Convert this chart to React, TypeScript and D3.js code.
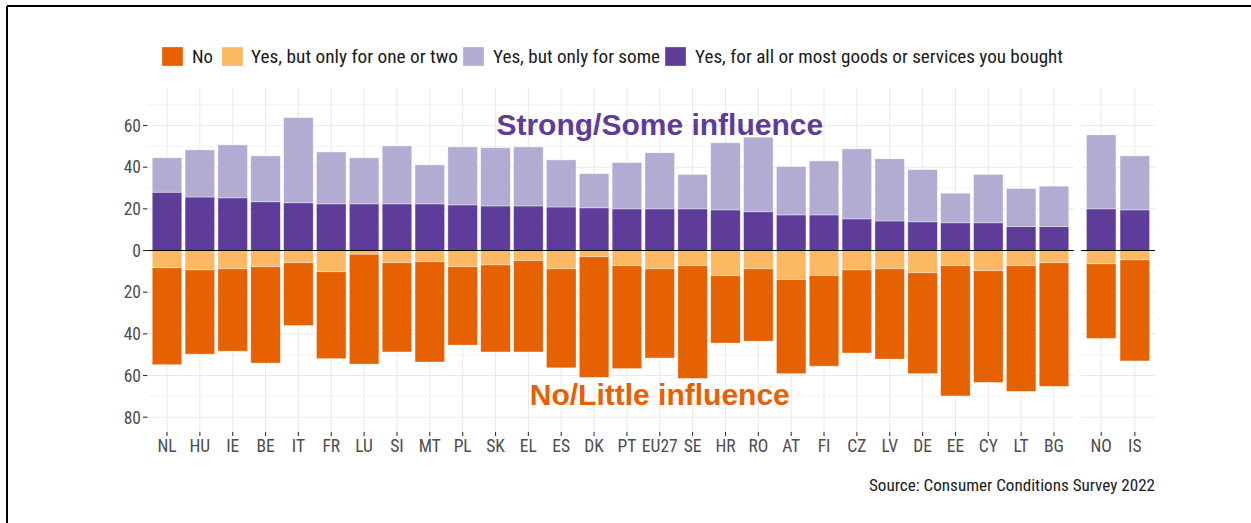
import React from "react";
import * as d3 from "d3";

const euCountries = ["NL","HU","IE","BE","IT","FR","LU","SI","MT","PL","SK","EL","ES","DK","PT","EU27","SE","HR","RO","AT","FI","CZ","LV","DE","EE","CY","LT","BG"];
const otherCountries = ["NO","IS"];
const allCountries = [...euCountries, ...otherCountries];

// % "Yes, for all or most goods or services you bought"
const allOrMost = [28.0,25.7,25.3,23.4,22.9,22.4,22.4,22.4,22.4,21.9,21.4,21.4,20.9,20.5,20.0,20.0,20.0,19.5,18.6,17.1,17.1,15.2,14.2,13.8,13.3,13.3,11.5,11.5,20.0,19.5];
// % "Yes, but only for some"
const onlySome = [16.5,22.6,25.4,22.0,40.9,24.9,22.1,27.8,18.7,27.8,27.9,28.3,22.6,16.4,22.2,26.9,16.5,32.2,35.8,23.2,25.9,33.6,29.8,25.0,14.2,23.2,18.2,19.4,35.5,25.9];
// % "Yes, but only for one or two"
const oneOrTwo = [8.3,9.3,8.8,7.8,5.9,10.2,1.8,5.9,5.4,7.8,6.9,4.9,8.8,3.0,7.3,8.8,7.3,12.1,8.8,13.9,12.0,9.3,8.8,10.7,7.3,9.7,7.3,5.9,6.4,4.5];
// % "No"
const noInfluence = [46.5,40.4,39.5,46.2,30.1,41.7,52.7,42.8,48.1,37.6,41.8,43.8,47.5,57.9,49.4,42.8,54.1,32.3,34.7,45.2,43.5,39.9,43.3,48.4,62.5,53.6,60.3,59.3,35.8,48.5];

const legendLabels = ["No","Yes, but only for one or two","Yes, but only for some","Yes, for all or most goods or services you bought"];
const legendKeys = ["no","oneOrTwo","some","allMost"];
const yTicks = [-80,-60,-40,-20,0,20,40,60];
const yMinor = [-70,-50,-30,-10,10,30,50,70];
const annotationTop = "Strong/Some influence";
const annotationBottom = "No/Little influence";
const sourceText = "Source: Consumer Conditions Survey 2022";

const colors: Record<string,string> = {
  no: "#E66101",
  oneOrTwo: "#FDB863",
  some: "#B2ABD2",
  allMost: "#5E3C99",
};

const FONT = "'Roboto Condensed','Liberation Sans Narrow','DejaVu Sans Condensed',Roboto,sans-serif";

export default function App() {
  const rows = allCountries.map((c, i) => ({
    country: c,
    allMost: allOrMost[i],
    some: onlySome[i],
    oneOrTwo: -oneOrTwo[i],
    no: -noInfluence[i],
  }));
  const keys = ["allMost","some","oneOrTwo","no"];
  const series = d3.stack<any>().keys(keys).offset(d3.stackOffsetDiverging)(rows);

  const panelTop = 88, panelBottom = 432;
  const y = d3.scaleLinear().domain([-87.1, 78]).range([panelBottom, panelTop]);
  const yPix = (v: number) => y(-v); // negative values are drawn below zero; axis labels show magnitude

  const panels = [
    { countries: euCountries, x: d3.scalePoint<string>().domain(euCountries).range([147.3, 1073.7]).padding(0.6), left: 147.3, right: 1073.7 },
    { countries: otherCountries, x: d3.scalePoint<string>().domain(otherCountries).range([1081, 1155]).padding(0.6), left: 1081, right: 1155 },
  ];
  const barW = panels[0].x.step() * 0.9;

  const legendSquares = [162, 222, 463, 665];
  const legendTextX = [192, 251, 493, 695];
  const legendTextW = [21, 207, 167, 368];

  return (
    <svg width={1251} height={523} style={{ position: "absolute", left: 0, top: 0, background: "#fff" }}>
      <rect x={0} y={0} width={1251} height={523} fill="#fff" />
      {/* frame */}
      <line x1={7} x2={1251} y1={6} y2={6} stroke="#000" strokeWidth={2} />
      <line x1={7} x2={7} y1={6} y2={523} stroke="#000" strokeWidth={2} />

      {/* legend */}
      {legendKeys.map((k, i) => (
        <g key={k}>
          <rect x={legendSquares[i]} y={47} width={21} height={19} fill={colors[k]} stroke="#fff" strokeOpacity={0.5} strokeWidth={0.6} />
          <text x={legendTextX[i]} y={63} fontFamily={FONT} fontSize={19} fill="#1a1a1a"
            textLength={legendTextW[i]} lengthAdjust="spacingAndGlyphs">{legendLabels[i]}</text>
        </g>
      ))}

      {panels.map((p, pi) => (
        <g key={pi}>
          {/* grid */}
          {yMinor.map(v => (
            <line key={"mn" + v} x1={p.left} x2={p.right} y1={y(v)} y2={y(v)} stroke="#EBEBEB" strokeWidth={0.6} />
          ))}
          {yTicks.map(v => (
            <line key={"mj" + v} x1={p.left} x2={p.right} y1={y(v)} y2={y(v)} stroke="#EBEBEB" strokeWidth={1.1} />
          ))}
          {p.countries.map(c => (
            <line key={"vg" + c} x1={p.x(c)} x2={p.x(c)} y1={panelTop} y2={panelBottom} stroke="#EBEBEB" strokeWidth={1.1} />
          ))}
          {/* bars */}
          {series.map(s => (
            <g key={s.key} fill={colors[s.key]}>
              {s.filter(d => p.countries.includes(d.data.country)).map(d => (
                <rect key={d.data.country}
                  x={(p.x(d.data.country) as number) - barW / 2}
                  width={barW}
                  y={y(Math.max(d[0], d[1]))}
                  height={Math.abs(y(d[0]) - y(d[1]))}
                  stroke="#fff" strokeOpacity={0.55} strokeWidth={0.7} />
              ))}
            </g>
          ))}
          {/* zero line */}
          <line x1={p.left} x2={p.right} y1={y(0)} y2={y(0)} stroke="#000" strokeWidth={1.1} />
          {/* x ticks & labels */}
          {p.countries.map(c => (
            <g key={"xl" + c}>
              <line x1={p.x(c)} x2={p.x(c)} y1={panelBottom} y2={panelBottom + 4} stroke="#333" strokeWidth={1.1} />
              <text x={p.x(c)} y={452} textAnchor="middle" fontFamily={FONT} fontSize={17.5} fill="#4D4D4D">{c}</text>
            </g>
          ))}
        </g>
      ))}

      {/* y axis */}
      {yTicks.map(v => (
        <g key={"yt" + v}>
          <line x1={143} x2={147.3} y1={y(v)} y2={y(v)} stroke="#333" strokeWidth={1.1} />
          <text x={141} y={y(v) + 6.3} textAnchor="end" fontFamily={FONT} fontSize={17.5} fill="#4D4D4D">{Math.abs(v)}</text>
        </g>
      ))}

      {/* annotations */}
      <text x={panels[0].x("EU27")} y={y(60) + 9.5} textAnchor="middle" fontFamily="'Liberation Sans',Arial,sans-serif" fontWeight="bold" fontSize={30} fill={colors.allMost}>{annotationTop}</text>
      <text x={panels[0].x("EU27")} y={y(-70) + 8.6} textAnchor="middle" fontFamily="'Liberation Sans',Arial,sans-serif" fontWeight="bold" fontSize={30} fill={colors.no}>{annotationBottom}</text>

      {/* source */}
      <text x={1155} y={491} textAnchor="end" fontFamily={FONT} fontSize={16} fill="#1a1a1a" textLength={286} lengthAdjust="spacingAndGlyphs">{sourceText}</text>
    </svg>
  );
}
